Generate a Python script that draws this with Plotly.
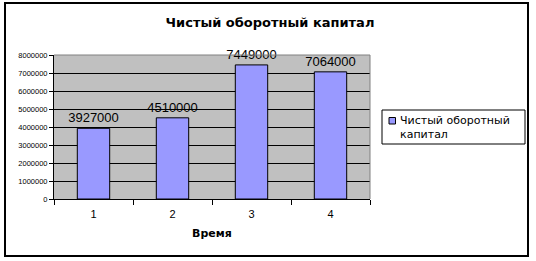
import plotly.graph_objects as go

categories = ["1", "2", "3", "4"]
values = [3927000, 4510000, 7449000, 7064000]
series_name = "Чистый оборотный капитал"
legend_label = "Чистый оборотный<br>капитал"
title_text = "Чистый оборотный капитал"
x_title = "Время"

W, H = 536, 261
L, R, T, B = 54, 166, 55, 62
PW = W - L - R
PH = H - T - B


def px(x):
    return (x - L) / PW


def py(y):
    return (H - B - y) / PH


FONT = "Liberation Sans, Arial, sans-serif"
WIDE = "DejaVu Sans, Verdana, sans-serif"

fig = go.Figure()
fig.add_trace(go.Bar(
    x=categories, y=values, name=series_name,
    marker=dict(color="#9999ff", line=dict(color="#000000", width=1)),
    width=0.41,
    text=[str(v) for v in values], textposition="outside", constraintext="none",
    textfont=dict(family=FONT, size=13, color="#000000"),
    cliponaxis=False, showlegend=False,
))

shapes = [
    # outer frame
    dict(type="rect", xref="paper", yref="paper", x0=px(5), x1=px(528), y0=py(256), y1=py(3),
         line=dict(color="#000000", width=2), layer="below"),
    # plot area top and right border
    dict(type="line", xref="paper", yref="paper", x0=0, x1=1, y0=1, y1=1,
         line=dict(color="#808080", width=1)),
    dict(type="line", xref="paper", yref="paper", x0=1, x1=1, y0=0, y1=1,
         line=dict(color="#808080", width=1)),
    # legend box
    dict(type="rect", xref="paper", yref="paper", x0=px(382), x1=px(525), y0=py(144), y1=py(110),
         line=dict(color="#000000", width=1), fillcolor="#ffffff"),
    # legend swatch
    dict(type="rect", xref="paper", yref="paper", x0=px(389), x1=px(395.5), y0=py(124), y1=py(117.5),
         line=dict(color="#000000", width=1), fillcolor="#9999ff"),
]

annotations = [
    dict(text=legend_label, xref="paper", yref="paper", x=px(398), y=py(112),
         xanchor="left", yanchor="top", showarrow=False, align="left",
         font=dict(family=WIDE, size=11, color="#000000")),
]

fig.update_layout(
    width=W, height=H,
    margin=dict(l=L, r=R, t=T, b=B),
    paper_bgcolor="#ffffff", plot_bgcolor="#c0c0c0",
    title=dict(text="<b>" + title_text + "</b>", xref="container", x=270 / W, xanchor="center",
               yref="container", y=1 - 22 / H, yanchor="middle",
               font=dict(family=WIDE, size=13, color="#000000")),
    shapes=shapes, annotations=annotations,
    showlegend=False,
    xaxis=dict(type="category", showline=True, linecolor="#000000", linewidth=1,
               ticks="outside", tickson="boundaries", ticklen=5, tickcolor="#000000",
               ticklabelstandoff=5,
               showgrid=False, tickfont=dict(family=FONT, size=11, color="#000000"),
               title=dict(text="<b>" + x_title + "</b>", standoff=10,
                          font=dict(family=WIDE, size=11, color="#000000"))),
    yaxis=dict(range=[0, 8000000], dtick=1000000, tickformat="d",
               showline=True, linecolor="#000000", linewidth=1,
               ticks="outside", ticklen=4, tickcolor="#000000",
               showgrid=True, gridcolor="#000000", gridwidth=1, zeroline=False,
               tickfont=dict(family=FONT, size=7.5, color="#000000")),
    bargap=0.59,
)

fig.write_html("out.html")
